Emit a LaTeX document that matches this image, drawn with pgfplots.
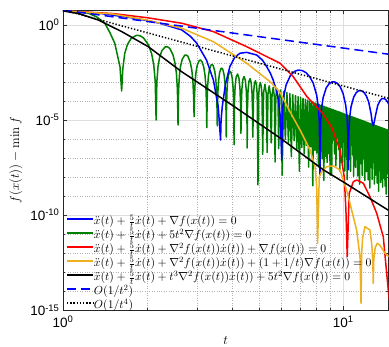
\RequirePackage{fix-cm}
\documentclass[border=0pt]{standalone}
\usepackage[no-math]{fontspec}
\newfontfamily\tickfont{Liberation Sans}
\usepackage{pgfplots}
\pgfplotsset{compat=1.18}
\definecolor{mblue}{rgb}{0,0,1}
\definecolor{mgreen}{rgb}{0,0.5,0}
\definecolor{mred}{rgb}{1,0,0}
\definecolor{morange}{rgb}{0.929,0.694,0.125}
\begin{document}
\begin{tikzpicture}
\path[use as bounding box] (-63pt,-36.7pt) rectangle (326pt,310.3pt);
\begin{axis}[
 at={(0,0)}, anchor=south west,
 scale only axis, width=325.5pt, height=300pt,
 xmode=log, ymode=log,
 xmin=1, xmax=14.5, ymin=1e-15, ymax=5.9,
 xtick={1,10}, xticklabels={10\textsuperscript{0},10\textsuperscript{1}},
 minor xtick={2,3,4,5,6,7,8,9},
 ytick={1e-15,1e-10,1e-5,1},
 yticklabels={10\textsuperscript{-15},10\textsuperscript{-10},10\textsuperscript{-5},10\textsuperscript{0}},
 minor ytick={1e-14,1e-13,1e-12,1e-11,1e-9,1e-8,1e-7,1e-6,1e-4,1e-3,1e-2,1e-1},
 grid=both,
 major grid style={line width=0.4pt, draw=black!13},
 minor grid style={line width=0.4pt, draw=black!30, dotted},
 tick align=inside, major tick length=4pt, minor tick length=2.5pt,
 every tick/.style={black!80, line width=0.4pt},
 axis line style={black!85, line width=0.5pt},
 ticklabel style={font=\tickfont\fontsize{13.5}{15}\selectfont},
 xticklabel style={yshift=-2pt},
 xlabel={$t$}, ylabel={$f(x(t))-\min f$},
 every axis y label/.style={at={(axis description cs:-0.1444,0.5)}, rotate=90, anchor=center, font=\fontsize{13}{15}\selectfont},
 every axis x label/.style={at={(axis description cs:0.5,-0.10)}, anchor=center, font=\fontsize{13}{15}\selectfont},
 legend style={at={(0,0)}, anchor=south west, draw=none, fill=none, xshift=2pt, yshift=-3.2pt,
   inner xsep=1pt, inner ysep=1pt, font=\fontsize{11.7}{14}\selectfont, row sep=1pt,
   nodes={inner sep=0pt, text height=9.5pt, text depth=3.5pt}},
 legend cell align=left,
 legend image code/.code={\draw[#1] (0pt,3pt) -- (26pt,3pt);},
]
% green
\addplot[mgreen, line width=1.5pt, line join=round, forget plot] coordinates {
(1,5.5) (1.1,5.0) (1.23,4.17) (1.32,2.63) (1.41,1.23) (1.47,0.398) (1.53,0.110) (1.597,6.46e-3) (1.619,3.39e-4)
(1.635,5.01e-3) (1.661,3.24e-2) (1.699,9.55e-2) (1.752,0.200) (1.831,0.288) (1.884,0.269) (1.937,0.209) (2.017,9.12e-2) (2.070,3.16e-2) (2.107,8.51e-3) (2.133,1.15e-3)
(2.149,1.0e-5)
(2.162,1.0e-3) (2.183,6.61e-3) (2.213,2.04e-2) (2.255,4.57e-2) (2.319,7.08e-2) (2.361,7.08e-2) (2.403,5.89e-2) (2.467,2.75e-2) (2.509,1.02e-2) (2.539,2.88e-3) (2.560,3.98e-4)
(2.573,5.50e-6)
(2.584,3.31e-4) (2.602,2.19e-3) (2.627,6.92e-3) (2.664,1.58e-2) (2.718,2.57e-2) (2.755,2.63e-2) (2.791,2.24e-2) (2.845,1.10e-2) (2.882,4.17e-3) (2.907,1.20e-3) (2.925,1.66e-4)
(2.936,1.51e-5)
(2.946,1.66e-4) (2.962,1.10e-3) (2.984,3.55e-3) (3.017,8.13e-3) (3.065,1.38e-2) (3.098,1.41e-2) (3.130,1.20e-2) (3.178,6.17e-3) (3.211,2.34e-3) (3.233,6.92e-4) (3.249,9.55e-5)
(3.259,3.98e-6)
(3.268,9.33e-5) (3.282,6.31e-4) (3.303,2.0e-3) (3.332,4.68e-3) (3.376,7.94e-3) (3.406,8.32e-3) (3.435,7.24e-3) (3.479,3.72e-3) (3.508,1.45e-3) (3.529,4.17e-4) (3.543,5.89e-5)
(3.552,5.01e-6)
(3.560,5.75e-5) (3.574,3.98e-4) (3.593,1.26e-3) (3.620,3.02e-3) (3.661,5.13e-3) (3.688,5.37e-3) (3.715,4.68e-3) (3.756,2.40e-3) (3.783,9.55e-4) (3.802,2.75e-4) (3.816,3.98e-5)
(3.824,1.26e-6)
(3.832,3.80e-5) (3.844,2.63e-4) (3.862,8.32e-4) (3.887,2.0e-3) (3.925,3.39e-3) (3.950,3.63e-3) (3.976,3.16e-3) (4.014,1.66e-3) (4.039,6.61e-4) (4.057,1.95e-4) (4.070,2.75e-5)
(4.077,5.01e-7)
(4.089,7.41e-5) (4.113,6.03e-4) (4.148,1.86e-3) (4.196,2.63e-3) (4.244,1.62e-3) (4.279,4.79e-4) (4.303,5.62e-5)
(4.315,2.0e-6)
(4.326,5.37e-5) (4.349,4.37e-4) (4.383,1.35e-3) (4.428,1.95e-3) (4.473,1.23e-3) (4.507,3.63e-4) (4.530,4.27e-5)
(4.541,3.39e-7)
(4.552,4.17e-5) (4.573,3.39e-4) (4.606,1.05e-3) (4.649,1.51e-3) (4.692,9.55e-4) (4.724,2.82e-4) (4.745,3.31e-5)
(4.756,1.26e-6)
(4.787,2.63e-4) (4.818,8.13e-4) (4.859,1.17e-3) (4.900,7.41e-4) (4.931,2.19e-4)
(4.962,3.89e-9)
(4.992,2.09e-4) (5.021,6.46e-4) (5.061,9.33e-4) (5.100,5.89e-4) (5.130,1.74e-4)
(5.159,1.58e-7)
(5.197,2.82e-4) (5.255,7.59e-4) (5.312,2.51e-4)
(5.350,2.0e-7)
(5.387,2.34e-4) (5.442,6.31e-4) (5.497,2.04e-4)
(5.534,6.31e-7)
(5.569,1.95e-4) (5.623,5.25e-4) (5.676,1.70e-4)
(5.711,6.31e-8)
(5.746,1.66e-4) (5.798,4.47e-4) (5.849,1.45e-4)
(5.884,3.16e-7)
(5.917,1.41e-4) (5.968,3.80e-4) (6.018,1.23e-4)
(6.051,1.26e-8) (6.133,3.27e-4) (6.214,9.66e-7) (6.294,2.85e-4) (6.373,6.67e-7) (6.451,2.48e-4)
(6.528,1.17e-7) (6.604,2.19e-4) (6.680,8.17e-7) (6.754,1.93e-4) (6.828,2.88e-7) (6.900,1.71e-4)
(6.973,2.04e-8) (7.044,1.53e-4) (7.115,3.65e-7) (7.185,1.37e-4) (7.254,1.64e-7) (7.323,1.24e-4)
(7.391,4.68e-7) (7.458,1.12e-4) (7.525,3.37e-8) (7.591,1.02e-4) (7.656,3.85e-7) (7.721,9.25e-5)
(7.786,3.51e-9) (7.850,8.43e-5) (7.913,2.55e-7) (7.976,7.73e-5) (8.039,1.86e-7) (8.100,7.11e-5)
(8.162,3.42e-8) (8.223,6.55e-5) (8.284,2.51e-7) (8.344,6.04e-5) (8.404,9.2e-8) (8.463,5.58e-5)
(8.522,6.76e-9) (8.580,5.18e-5) (8.638,1.26e-7) (8.696,4.82e-5) (8.753,5.85e-8) (8.810,4.49e-5)
(8.867,1.72e-7) (8.923,4.18e-5) (8.979,1.28e-8) (9.035,3.90e-5) (9.090,1.50e-8) (9.145,3.65e-5)
(9.199,8.87e-7) (9.253,3.42e-5) (9.307,1.66e-7) (9.361,3.21e-5) (9.414,3.91e-8) (9.467,3.01e-5)
(9.519,1.16e-6) (9.572,2.84e-5) (9.624,2.76e-7) (9.676,2.68e-5) (9.727,2.07e-8) (9.779,2.53e-5)
(9.830,3.89e-7) (9.881,2.39e-5) (9.931,5.82e-8) (9.981,2.25e-5) (10.031,6.93e-7) (10.081,2.13e-5)
(10.130,2.07e-8) (10.179,2.02e-5) (10.228,1.24e-7) (10.277,1.92e-5) (10.326,7.43e-9) (10.374,1.82e-5)
(10.422,4.46e-7) (10.470,1.73e-5) (10.518,8.45e-8) (10.565,1.64e-5) (10.612,2.02e-8) (10.659,1.57e-5)
(10.706,6.10e-7) (10.753,1.49e-5) (10.799,1.46e-7) (10.845,1.43e-5) (10.891,1.11e-8) (10.937,1.36e-5)
(10.983,2.11e-7) (11.028,1.30e-5) (11.073,3.19e-8) (11.118,1.24e-5) (11.163,3.85e-7) (11.208,1.19e-5)
(11.253,1.16e-8) (11.297,1.14e-5) (11.341,7.03e-8) (11.385,1.09e-5) (11.429,4.26e-9) (11.473,1.05e-5)
(11.516,2.58e-7) (11.560,1.00e-5) (11.603,4.93e-8) (11.646,9.64e-6) (11.688,1.19e-8) (11.731,9.27e-6)
(11.774,3.61e-7) (11.816,8.89e-6) (11.858,8.73e-8) (11.900,8.55e-6) (11.942,6.67e-9) (11.984,8.22e-6)
(12.026,1.28e-7) (12.068,7.93e-6) (12.109,1.95e-8) (12.150,7.64e-6) (12.191,2.37e-7) (12.232,7.36e-6)
(12.273,7.23e-9) (12.314,7.10e-6) (12.354,4.40e-8) (12.395,6.84e-6) (12.435,2.68e-9) (12.475,6.61e-6)
(12.515,1.63e-7) (12.555,6.38e-6) (12.594,3.14e-8) (12.634,6.17e-6) (12.674,7.62e-9) (12.713,5.96e-6)
(12.752,2.33e-7) (12.791,5.75e-6) (12.830,5.66e-8) (12.869,5.56e-6) (12.908,4.35e-9) (12.947,5.38e-6)
(12.985,8.41e-8) (13.024,5.22e-6) (13.062,1.29e-8) (13.100,5.05e-6) (13.139,1.57e-7) (13.177,4.89e-6)
(13.214,4.81e-9) (13.252,4.73e-6) (13.290,2.94e-8) (13.328,4.58e-6) (13.365,1.79e-9) (13.403,4.44e-6)
(13.440,1.10e-7) (13.477,4.30e-6) (13.514,2.13e-8) (13.551,4.19e-6) (13.588,5.20e-9) (13.625,4.06e-6)
(13.661,1.60e-7) (13.698,3.95e-6) (13.734,3.89e-8) (13.771,3.84e-6) (13.807,3.01e-9) (13.843,3.73e-6)
(13.879,5.82e-8) (13.915,3.62e-6) (13.951,8.97e-9) (13.987,3.52e-6) (14.022,1.10e-7) (14.058,3.42e-6)
(14.093,3.37e-9) (14.129,3.33e-6) (14.164,2.07e-8) (14.199,3.24e-6) (14.234,1.27e-9) (14.270,3.15e-6)
(14.305,7.80e-8) (14.340,3.06e-6) (14.374,1.51e-8) (14.409,2.98e-6) (14.444,5.0e-7) (14.48,2.9e-6) (14.52,1e-8)
};
% blue
\addplot[mblue, line width=1.5pt, line join=round, forget plot] coordinates {
(1,5.5) (1.336,4.17) (1.81,2.24) (2.2,1.26) (2.652,0.55) (2.85,0.251) (3.0,0.110) (3.25,1.45e-2) (3.44,1.29e-3) (3.58,5.01e-5) (3.65,8.91e-7)
(3.665,1.0e-5) (3.70,5.01e-5) (3.73,1.15e-4) (3.80,7.94e-4) (3.94,6.46e-3) (4.1,2.0e-2) (4.28,3.24e-2) (4.52,3.63e-2) (4.91,2.63e-2) (5.15,1.41e-2) (5.33,6.46e-3) (5.5,2.82e-3) (5.62,1.29e-3) (5.75,4.47e-4) (5.87,1.15e-4) (5.96,1.58e-5)
(6.03,7.94e-8)
(6.075,3.39e-5) (6.142,2.0e-4) (6.253,7.08e-4) (6.476,2.19e-3) (6.699,3.63e-3) (6.922,4.27e-3) (7.145,3.98e-3) (7.368,3.09e-3) (7.591,1.91e-3) (7.814,8.71e-4) (8.037,2.04e-4) (8.149,4.79e-5) (8.215,7.41e-6)
(8.26,1.26e-8)
(8.303,6.92e-6) (8.368,4.07e-5) (8.476,1.51e-4) (8.692,4.90e-4) (8.908,8.32e-4) (9.124,1.02e-3) (9.340,1.0e-3) (9.556,8.13e-4) (9.772,5.25e-4) (9.988,2.45e-4) (10.204,6.03e-5) (10.312,1.46e-5) (10.377,2.29e-6)
(10.42,2.5e-8)
(10.468,2.24e-6) (10.539,1.35e-5) (10.658,5.01e-5) (10.896,1.62e-4) (11.134,2.82e-4) (11.372,3.51e-4) (11.61,3.47e-4) (11.848,2.85e-4) (12.086,1.86e-4) (12.324,8.91e-5) (12.562,2.19e-5) (12.681,8.0e-6)
(12.8,5.0e-6)
(12.92,9.0e-6) (13.04,1.82e-5) (13.28,6.03e-5) (13.52,1.05e-4) (13.76,1.35e-4) (14.0,1.35e-4) (14.24,1.12e-4) (14.48,7.59e-5) (14.6,6.0e-5)
};
% red
\addplot[mred, line width=1.5pt, line join=round, forget plot] coordinates {
(1,5.5) (1.5,4.0) (2.0,2.4) (2.652,1.23) (3.44,0.447) (4.52,7.24e-2) (5.95,9.77e-3) (6.63,1.91e-3) (7.42,1.70e-4) (8.4,2.5e-5) (9.1,4.0e-6) (9.73,2.7e-7) (10.08,1.05e-8) (10.22,1.9e-10) (10.33,6.6e-13) (10.5,1.4e-9) (10.86,5.75e-9) (11.16,7.1e-9) (11.79,4.8e-9) (12.45,9.3e-10) (13.16,1.26e-10) (13.89,7.4e-12) (14.47,1.2e-14) (14.6,3e-15)
};
% orange
\addplot[morange, line width=1.5pt, line join=round, forget plot] coordinates {
(1,5.5) (1.5,3.8) (2.0,1.78) (2.65,0.676) (3.44,0.132) (4.52,9.77e-3) (5.5,1.0e-3) (5.95,2.82e-4) (6.45,2.82e-5) (7.01,3.02e-6) (7.61,2.69e-7) (7.93,3.55e-8) (8.04,3.16e-9) (8.10,3.31e-12) (8.21,1.05e-8) (8.37,1.95e-8) (8.73,3.55e-8) (9.21,3.89e-8) (9.73,2.40e-8) (10.28,2.09e-9) (10.71,1.86e-10) (11.16,1.66e-11) (11.47,6.61e-13) (11.57,2.34e-15) (11.63,1.0e-12) (11.72,6.3e-12) (11.95,2.51e-11) (12.45,1.66e-11) (12.65,2.5e-12) (12.75,3.2e-13) (12.79,2.63e-14) (12.85,5.0e-13) (13.0,2.0e-12) (13.22,3.31e-12) (13.5,2.69e-12) (14.09,1.0e-12) (14.55,6.61e-13)
};
% black
\addplot[black, line width=1.5pt, line join=round, forget plot] coordinates {
(1,5.5) (1.15,3.8) (1.336,1.82) (1.62,0.447) (2.015,7.24e-2) (2.65,3.5e-3) (4,6.3e-5) (6,1.05e-6) (8.5,2.4e-8) (10,5.6e-9) (14.5,1.8e-10)
};
% O(1/t^2)
\addplot[mblue, line width=1.5pt, dash pattern=on 9pt off 5pt, forget plot] coordinates {(1,6.1) (14.5,2.90e-2)};
% O(1/t^4)
\addplot[black, line width=1.5pt, dash pattern=on 1.3pt off 1.9pt, forget plot] coordinates {(1,6.2) (14.5,1.40e-4)};
\addlegendimage{mblue, line width=1.8pt}
\addlegendentry{$\ddot{x}(t)+\frac{5}{t}\dot{x}(t)+\nabla f(x(t))=0$}
\addlegendimage{mgreen, line width=1.8pt}
\addlegendentry{$\ddot{x}(t)+\frac{5}{t}\dot{x}(t)+5t^2\nabla f(x(t))=0$}
\addlegendimage{mred, line width=1.8pt}
\addlegendentry{$\ddot{x}(t)+\frac{5}{t}\dot{x}(t)+\nabla^2 f(x(t))\dot{x}(t))+\nabla f(x(t))=0$}
\addlegendimage{morange, line width=1.8pt}
\addlegendentry{$\ddot{x}(t)+\frac{5}{t}\dot{x}(t)+\nabla^2 f(x(t))\dot{x}(t))+(1+1/t)\nabla f(x(t))=0$}
\addlegendimage{black, line width=1.8pt}
\addlegendentry{$\ddot{x}(t)+\frac{5}{t}\dot{x}(t)+t^3\nabla^2 f(x(t))\dot{x}(t))+5t^2\nabla f(x(t))=0$}
\addlegendimage{mblue, line width=1.8pt, dash pattern=on 9pt off 5pt}
\addlegendentry{$O(1/t^2)$}
\addlegendimage{black, line width=1.8pt, dash pattern=on 1.3pt off 1.9pt}
\addlegendentry{$O(1/t^4)$}
\end{axis}
\end{tikzpicture}
\end{document}
